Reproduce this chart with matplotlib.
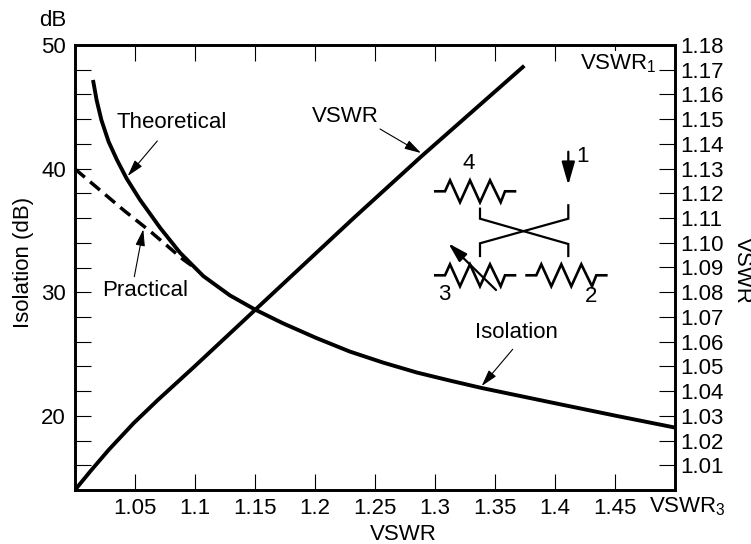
import matplotlib
matplotlib.use("Agg")
import matplotlib.pyplot as plt
from matplotlib.transforms import Affine2D

plt.rcParams['font.family'] = ['Liberation Sans', 'DejaVu Sans']
plt.rcParams['mathtext.fontset'] = 'custom'
plt.rcParams['mathtext.rm'] = 'Liberation Sans'

# values
iso_vswr = [1.015, 1.018, 1.022, 1.028, 1.035, 1.043, 1.054, 1.071, 1.0875, 1.107, 1.129, 1.15,
            1.173, 1.201, 1.229, 1.257, 1.285, 1.3125, 1.339, 1.396, 1.451, 1.5]
iso_db = [47.17, 45.55, 43.93, 42.18, 40.7, 39.2, 37.5, 35.2, 33.2, 31.3, 29.75, 28.6,
          27.5, 26.3, 25.2, 24.3, 23.5, 22.85, 22.25, 21.1, 20.0, 19.05]
prac_vswr = [1.0, 1.041, 1.063, 1.09, 1.1]
prac_db = [39.97, 36.6, 34.9, 32.66, 31.96]
v3_values = [1.0, 1.0125, 1.028, 1.049, 1.069, 1.099, 1.15, 1.232, 1.289, 1.3744]
v1_values = [1.0, 1.0074, 1.0162, 1.0271, 1.0364, 1.0497, 1.0728, 1.1099, 1.1351, 1.1716]

x_ticks = [1.05, 1.1, 1.15, 1.2, 1.25, 1.3, 1.35, 1.4, 1.45]
x_labels = ['1.05', '1.1', '1.15', '1.2', '1.25', '1.3', '1.35', '1.4', '1.45']
db_major = [20, 30, 40, 50]
db_minor = [16, 18, 22, 24, 26, 28, 32, 34, 36, 38, 42, 44, 46, 48]
right_ticks = [1.01, 1.02, 1.03, 1.04, 1.05, 1.06, 1.07, 1.08, 1.09, 1.10, 1.11, 1.12, 1.13, 1.14, 1.15, 1.16, 1.17, 1.18]

W, H = 751, 544
FS = 16
fig = plt.figure(figsize=(W / 100, H / 100), dpi=100)
ax = fig.add_axes([75 / W, 1 - 490 / H, 600 / W, 445 / H])
ax2 = ax.twinx()

# reference pixels -> figure
px = Affine2D().scale(1 / W, -1 / H).translate(0, 1) + fig.transFigure

ax.set_xlim(1.0, 1.5)
ax.set_ylim(14, 50)
ax2.set_ylim(1.0, 1.18)

ax.plot(iso_vswr, iso_db, color='black', lw=2.8, solid_capstyle='butt')
ax.plot(prac_vswr, prac_db, color='black', lw=2.5, ls=(0, (3.7, 2.0)))
ax2.plot(v3_values, v1_values, color='black', lw=2.8, solid_capstyle='butt')

ax.set_xticks(x_ticks, x_labels)
ax.set_yticks(db_major)
ax.set_yticks(db_minor, minor=True)
ax.tick_params(axis='x', which='major', direction='in', length=11.5, width=0.8, top=True,
               labelsize=FS, pad=6)
ax.tick_params(axis='y', which='both', direction='in', length=11.5, width=0.8)
ax.tick_params(axis='y', which='major', labelsize=FS, pad=6.5)
ax2.set_yticks(right_ticks, ['%.2f' % v for v in right_ticks])
ax2.tick_params(axis='y', direction='in', length=11.5, width=0.8, labelsize=FS, pad=4)

for a in (ax, ax2):
    for s in a.spines.values():
        s.set_linewidth(1.9)


def label(x, y, s, **kw):
    kw.setdefault('ha', 'center')
    kw.setdefault('va', 'center')
    return fig.text(x, y, s, transform=px, fontsize=FS, zorder=6, **kw)


def pointer(tail, tip, lw=0.8, size=9):
    ax2.annotate('', xy=tip, xytext=tail, xycoords=px, textcoords=px, zorder=7,
                 arrowprops=dict(arrowstyle='-|>,head_length=0.7,head_width=0.2', color='black',
                                 lw=lw, mutation_scale=size * 1.6, shrinkA=0, shrinkB=0))


# axis titles
label(53, 20, 'dB')
label(24, 262, 'Isolation (dB)', rotation=90)
label(403, 535, 'VSWR')
label(742, 270, 'VSWR', rotation=270)
label(618, 64, 'VSWR$_{\\mathrm{1}}$', bbox=dict(fc='white', ec='none', pad=1))
label(687, 507, 'VSWR$_{\\mathrm{3}}$')

# curve callouts
label(172, 122, 'Theoretical')
pointer((157.3, 141), (127.7, 176))
label(145, 290, 'Practical')
pointer((134.3, 276.7), (143.3, 229.3))
label(345, 117, 'VSWR')
pointer((380, 129), (421, 153))
label(516.7, 332.7, 'Isolation')
pointer((512.7, 349.3), (481.7, 386))

# attenuator schematic
zig_x = [435.3, 445, 450, 460, 470, 480, 490, 500.7, 505, 515]
zig_y = [0, 0, -11, 11, -11, 11, -11, 11, 0, 0]
zig_places = [(0, 191.3), (0, 275.3), (91.3, 275.3)]
for dx, y0 in zig_places:
    fig.add_artist(plt.Line2D([v + dx for v in zig_x], [y0 + v for v in zig_y], transform=px,
                              color='black', lw=1.9, solid_joinstyle='miter'))
cross_a = [(480, 208.7), (480, 218.7), (568.3, 244), (568.3, 256)]
cross_b = [(568.3, 205.3), (568.3, 218.7), (480, 243.3), (480, 256)]
for pts in (cross_a, cross_b):
    fig.add_artist(plt.Line2D([p[0] for p in pts], [p[1] for p in pts], transform=px,
                              color='black', lw=1.6, solid_joinstyle='miter'))
pointer((568.3, 151.7), (568.3, 185), lw=1.6, size=12.5)
pointer((496, 290), (448.3, 243.3), lw=1.6, size=10.5)
label(468.3, 163.3, '4')
label(582.7, 156, '1')
label(444, 295, '3')
label(590.7, 297, '2')

fig.savefig('out.png', dpi=100)
